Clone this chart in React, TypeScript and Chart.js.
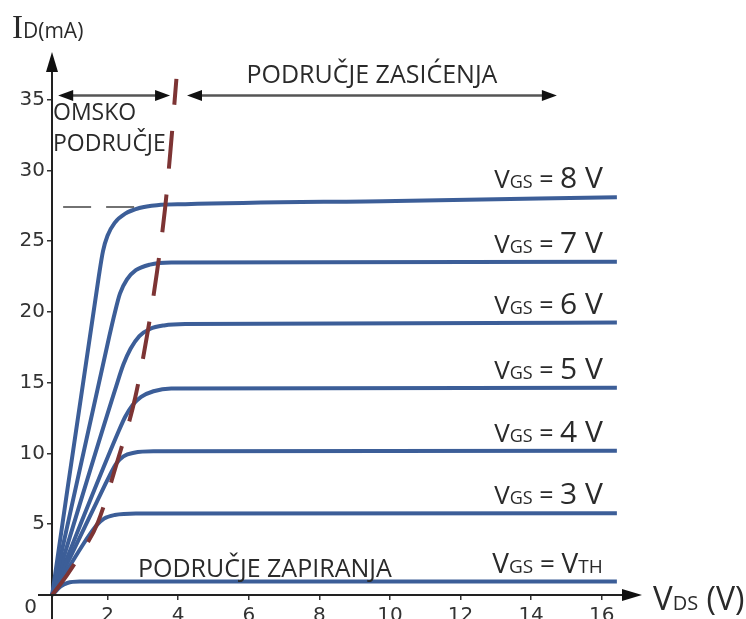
import { useEffect, useRef } from "react";
import { Chart, registerables } from "chart.js";

Chart.register(...registerables);

// ---- data (V_DS in V, I_D in mA) ----
const VDS_8 = [0.43, 1.75, 1.87, 2.0, 2.2, 2.5, 2.9, 3.4, 4.2, 10.17, 16.43];
const ID_8 = [0, 22.5, 24.3, 25.4, 26.3, 26.95, 27.35, 27.55, 27.62, 27.85, 28.1];
const VDS_7 = [0.43, 2.05, 2.2, 2.35, 2.55, 2.8, 3.2, 3.8, 16.43];
const ID_7 = [0, 18.3, 19.9, 21.3, 22.3, 22.95, 23.35, 23.5, 23.55];
const VDS_6 = [0.43, 2.25, 2.45, 2.65, 2.9, 3.2, 3.6, 4.2, 16.43];
const ID_6 = [0, 14.8, 16.3, 17.4, 18.3, 18.8, 19.05, 19.15, 19.25];
const VDS_5 = [0.43, 2.3, 2.5, 2.7, 2.95, 3.3, 3.8, 16.43];
const ID_5 = [0, 11.5, 12.6, 13.4, 14.0, 14.4, 14.6, 14.65];
const VDS_4 = [0.43, 1.95, 2.1, 2.25, 2.45, 2.75, 3.3, 16.43];
const ID_4 = [0, 7.9, 8.65, 9.3, 9.8, 10.05, 10.15, 10.2];
const VDS_3 = [0.43, 1.3, 1.5, 1.7, 1.9, 2.2, 2.8, 16.43];
const ID_3 = [0, 3.55, 4.3, 4.95, 5.4, 5.65, 5.76, 5.78];
const VDS_TH = [0.43, 0.67, 0.86, 1.21, 16.43];
const ID_TH = [0, 0.6, 0.85, 0.95, 0.95];
const VDS_BOUNDARY = [0.43, 0.85, 1.22, 1.73, 2.27, 2.78, 3.12, 3.4, 3.63, 3.8, 3.95];
const ID_BOUNDARY = [0, 1.41, 2.83, 5.16, 9.4, 13.92, 18.37, 22.83, 27.35, 31.94, 36.47];
const VDS_GUIDE = [0.74, 2.86];
const ID_GUIDE = [27.42, 27.42];

const CURVE_LABELS = ["8 V", "7 V", "6 V", "5 V", "4 V", "3 V", "TH"];

// axis ranges / ticks
const X_MIN = 0.425;
const X_MAX = 16.66;
const Y_MIN = 0;
const Y_MAX = 37.1;
const X_STEP = 2;
const Y_STEP = 5;

// region arrows and texts (data units)
const OHMIC_SPAN = [0.6, 3.77];
const SAT_SPAN = [4.25, 14.73];
const ARROW_ID = 35.3;
const LABEL_VDS_RIGHT = 16.03;

const BLUE = "#3c5e98";
const BROWN = "#7d3434";
const SANS = "'Open Sans', 'Noto Sans', sans-serif";
const TICK_FONT = "'DejaVu Sans', sans-serif";

type Part = { t: string; size: number; family?: string };

function drawParts(ctx: CanvasRenderingContext2D, parts: Part[], x: number, y: number, align: "left" | "right" | "center") {
  const widths = parts.map((p) => {
    ctx.font = `${p.size}px ${p.family ?? SANS}`;
    return ctx.measureText(p.t).width;
  });
  const total = widths.reduce((a, b) => a + b, 0);
  let cx = align === "left" ? x : align === "right" ? x - total : x - total / 2;
  ctx.textAlign = "left";
  ctx.textBaseline = "alphabetic";
  parts.forEach((p, i) => {
    ctx.font = `${p.size}px ${p.family ?? SANS}`;
    ctx.fillText(p.t, cx, y);
    cx += widths[i];
  });
}

function head(ctx: CanvasRenderingContext2D, tipX: number, tipY: number, dx: number, dy: number, len: number, half: number) {
  const bx = tipX - dx * len;
  const by = tipY - dy * len;
  ctx.beginPath();
  ctx.moveTo(tipX, tipY);
  ctx.lineTo(bx - dy * half, by + dx * half);
  ctx.lineTo(bx + dy * half, by - dx * half);
  ctx.closePath();
  ctx.fill();
}

const annotations = {
  id: "annotations",
  afterDatasetsDraw(chart: any) {
    const { ctx, chartArea, scales } = chart;
    const xs = scales.x;
    const ys = scales.y;
    const px = (v: number) => xs.getPixelForValue(v);
    const py = (v: number) => ys.getPixelForValue(v);
    ctx.save();

    // axis extensions + arrow heads
    ctx.strokeStyle = "#222";
    ctx.fillStyle = "#111";
    ctx.lineWidth = 2;
    ctx.beginPath();
    ctx.moveTo(chartArea.left - 14, chartArea.bottom);
    ctx.lineTo(chartArea.right + 2, chartArea.bottom);
    ctx.moveTo(chartArea.left, chartArea.bottom);
    ctx.lineTo(chartArea.left, chartArea.bottom + 24);
    ctx.moveTo(chartArea.left, chartArea.top);
    ctx.lineTo(chartArea.left, chartArea.top - 4);
    ctx.stroke();
    head(ctx, chartArea.right + 17, chartArea.bottom, 1, 0, 20, 6);
    head(ctx, chartArea.left, chartArea.top - 18, 0, -1, 20, 6);

    // origin label
    ctx.fillStyle = "#333";
    drawParts(ctx, [{ t: "0", size: 20, family: TICK_FONT }], chartArea.left - 15, chartArea.bottom + 18, "right");

    // region double arrows
    const dbl = (a: number, b: number, v: number) => {
      const x1 = px(a), x2 = px(b), y = py(v);
      ctx.strokeStyle = "#555";
      ctx.lineWidth = 2.5;
      ctx.beginPath();
      ctx.moveTo(x1 + 10, y);
      ctx.lineTo(x2 - 10, y);
      ctx.stroke();
      ctx.fillStyle = "#111";
      head(ctx, x1, y, -1, 0, 15, 5.5);
      head(ctx, x2, y, 1, 0, 15, 5.5);
    };
    dbl(OHMIC_SPAN[0], OHMIC_SPAN[1], ARROW_ID);
    dbl(SAT_SPAN[0], SAT_SPAN[1], ARROW_ID);

    ctx.fillStyle = "#2a2a2a";
    // region texts
    drawParts(ctx, [{ t: "OMSKO", size: 23 }], chartArea.left + 1, py(33.6), "left");
    drawParts(ctx, [{ t: "PODRUČJE", size: 23 }], chartArea.left + 1, py(31.4), "left");
    drawParts(ctx, [{ t: "PODRUČJE ZASIĆENJA", size: 25 }], px(9.49), py(36.17), "center");
    drawParts(ctx, [{ t: "PODRUČJE ZAPIRANJA", size: 25 }], px(2.86), py(1.27), "left");

    // curve labels
    const ends = [ID_8, ID_7, ID_6, ID_5, ID_4, ID_3, ID_TH].map((a) => a[a.length - 1]);
    CURVE_LABELS.forEach((lab, i) => {
      const base = py(ends[i]) - 9;
      const parts: Part[] =
        lab === "TH"
          ? [
              { t: "V", size: 28 },
              { t: "GS", size: 19 },
              { t: " = ", size: 26 },
              { t: "V", size: 28 },
              { t: "TH", size: 19 },
            ]
          : [
              { t: "V", size: 26 },
              { t: "GS", size: 18 },
              { t: " = ", size: 25 },
              { t: lab, size: 30 },
            ];
      drawParts(ctx, parts, px(LABEL_VDS_RIGHT), base, "right");
    });

    // axis titles
    drawParts(
      ctx,
      [
        { t: "I", size: 33, family: "'Liberation Serif', serif" },
        { t: "D(mA)", size: 21 },
      ],
      12,
      38,
      "left"
    );
    drawParts(
      ctx,
      [
        { t: "V", size: 33 },
        { t: "DS", size: 20 },
        { t: " (V)", size: 32 },
      ],
      chartArea.right + 28,
      chartArea.bottom + 15,
      "left"
    );
    ctx.restore();
  },
};

function series(xv: number[], yv: number[]) {
  return xv.map((x, i) => ({ x, y: yv[i] }));
}

export default function App() {
  const ref = useRef<HTMLCanvasElement | null>(null);
  useEffect(() => {
    if (!ref.current) return;
    const curve = (xv: number[], yv: number[]) => ({
      data: series(xv, yv),
      borderColor: BLUE,
      borderWidth: 4,
      pointRadius: 0,
      fill: false,
      cubicInterpolationMode: "monotone" as const,
      clip: false as const,
    });
    const chart = new Chart(ref.current, {
      type: "line",
      data: {
        datasets: [
          {
            data: series(VDS_BOUNDARY, ID_BOUNDARY),
            borderColor: BROWN,
            borderWidth: 4,
            borderDash: [38, 26],
            pointRadius: 0,
            fill: false,
            cubicInterpolationMode: "monotone",
            clip: false,
          },
          {
            data: series(VDS_GUIDE, ID_GUIDE),
            borderColor: "#444",
            borderWidth: 1.5,
            borderDash: [28, 15],
            pointRadius: 0,
            fill: false,
          },
          curve(VDS_8, ID_8),
          curve(VDS_7, ID_7),
          curve(VDS_6, ID_6),
          curve(VDS_5, ID_5),
          curve(VDS_4, ID_4),
          curve(VDS_3, ID_3),
          curve(VDS_TH, ID_TH),
        ] as any,
      },
      options: {
        animation: false,
        responsive: false,
        events: [],
        layout: { padding: { left: 0, right: 121, top: 70, bottom: 0 } },
        plugins: { legend: { display: false }, tooltip: { enabled: false } },
        scales: {
          x: {
            type: "linear",
            min: X_MIN,
            max: X_MAX,
            afterFit: (s: any) => {
              s.height = 24;
            },
            ticks: {
              stepSize: X_STEP,
              includeBounds: false,
              color: "#333",
              padding: 4,
              font: { family: TICK_FONT, size: 20 },
            },
            grid: { drawOnChartArea: false, drawTicks: true, tickLength: 5, color: "#333", lineWidth: 1.5 },
            border: { display: true, color: "#222", width: 2 },
          },
          y: {
            type: "linear",
            min: Y_MIN,
            max: Y_MAX,
            afterFit: (s: any) => {
              s.width = 52;
            },
            ticks: {
              stepSize: Y_STEP,
              includeBounds: false,
              color: "#333",
              padding: 2,
              font: { family: TICK_FONT, size: 20 },
              callback: (v: any) => (Number(v) === 0 ? "" : String(v)),
            },
            grid: { drawOnChartArea: false, drawTicks: true, tickLength: 5, color: "#333", lineWidth: 1.5 },
            border: { display: true, color: "#222", width: 2 },
          },
        },
      },
      plugins: [annotations],
    });
    return () => chart.destroy();
  }, []);
  return (
    <div style={{ position: "absolute", left: 0, top: 0, width: 746, height: 619, background: "#fff" }}>
      <canvas ref={ref} width={746} height={619} />
    </div>
  );
}
